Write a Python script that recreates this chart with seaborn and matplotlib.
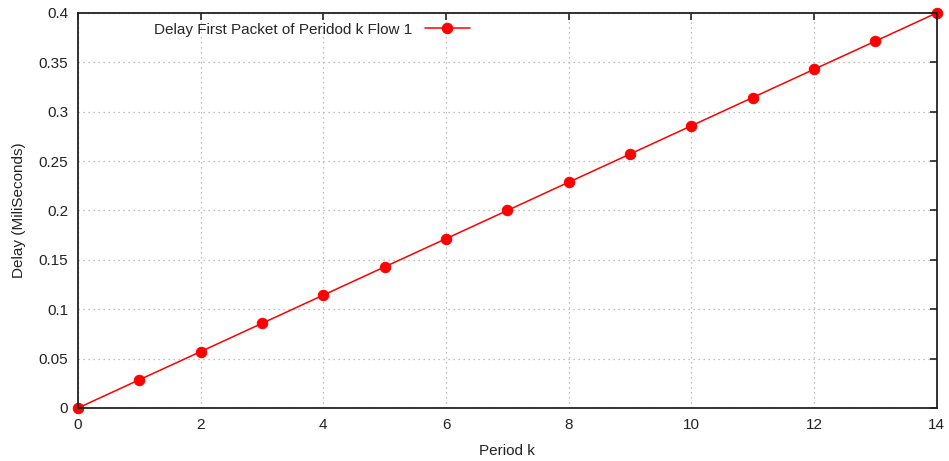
import matplotlib
matplotlib.use("Agg")
import matplotlib.pyplot as plt
import seaborn as sns
import pandas as pd

period_k = [0, 1, 2, 3, 4, 5, 6, 7, 8, 9, 10, 11, 12, 13, 14]
delay_ms = [0.0, 0.0286, 0.0571, 0.0857, 0.1143, 0.1429, 0.1714, 0.2,
            0.2286, 0.2571, 0.2857, 0.3143, 0.3429, 0.3714, 0.4]
series_label = "Delay First Packet of Peridod k Flow 1"

sns.set_style("white")
plt.rcParams['font.family'] = ['Liberation Sans', 'DejaVu Sans']
plt.rcParams['font.size'] = 11

df = pd.DataFrame({"k": period_k, "delay": delay_ms})

fig = plt.figure(figsize=(9.49, 4.61), dpi=100)
ax = fig.add_axes([0.0822, 0.115, 0.9048, 0.857])

sns.lineplot(data=df, x="k", y="delay", ax=ax, color="#ff0000", marker="o",
             markersize=7.5, markeredgecolor="#ff0000", linewidth=1.1,
             label=series_label, clip_on=False)

ax.set_xlim(0, 14)
ax.set_ylim(0, 0.4)
ax.set_xticks(range(0, 15, 2))
ax.set_yticks([0, 0.05, 0.1, 0.15, 0.2, 0.25, 0.3, 0.35, 0.4])
ax.set_yticklabels(["0", "0.05", "0.1", "0.15", "0.2", "0.25", "0.3", "0.35", "0.4"])
ax.set_xlabel("Period k", fontsize=11, color="#222222", labelpad=9)
ax.set_ylabel("Delay (MiliSeconds)", fontsize=11, color="#222222", labelpad=9)

ax.grid(True, linestyle=(0, (1, 3)), color="#aaaaaa", linewidth=0.9)
for s in ax.spines.values():
    s.set_visible(True)
    s.set_color("#222222")
    s.set_linewidth(1.3)
ax.tick_params(direction="in", length=5, width=1.2, top=True, right=True,
               colors="#222222", labelsize=11, pad=7)

leg = ax.legend(loc="upper right", bbox_to_anchor=(0.473, 1.01), frameon=False,
                markerfirst=False, handlelength=3.0, fontsize=11)

fig.savefig("out.png", dpi=100)
